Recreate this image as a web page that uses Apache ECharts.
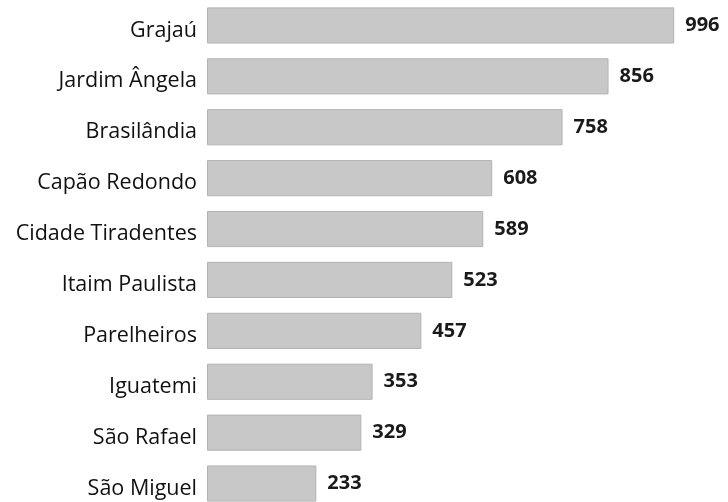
<!DOCTYPE html>
<html>
<head>
<meta charset="utf-8">
<script src="https://cdn.jsdelivr.net/npm/echarts@6/dist/echarts.min.js"></script>
<style>
  html, body { margin: 0; padding: 0; background: #fff; }
  #chart { width: 728px; height: 502px; }
</style>
</head>
<body>
<div id="chart"></div>
<script>
const bairros = ['Grajaú', 'Jardim Ângela', 'Brasilândia', 'Capão Redondo', 'Cidade Tiradentes',
    'Itaim Paulista', 'Parelheiros', 'Iguatemi', 'São Rafael', 'São Miguel'];
const valores = [996, 856, 758, 608, 589, 523, 457, 353, 329, 233];

const chart = echarts.init(document.getElementById('chart'), null, {renderer: 'canvas'});

chart.setOption({
    animation: false,
    grid: {left: 207, right: 5, top: 0, height: 509, outerBoundsMode: 'none'},
    xAxis: {
        type: 'value',
        min: 0,
        max: 1100,
        show: false
    },
    yAxis: {
        type: 'category',
        data: bairros,
        inverse: true,
        axisLine: {show: false},
        axisTick: {show: false},
        axisLabel: {
            margin: 10,
            color: '#111',
            fontFamily: 'Open Sans',
            fontSize: 21.5,
            verticalAlign: 'top',
            lineHeight: 22,
            padding: [-6, 0, 0, 0]
        }
    },
    series: [{
        type: 'bar',
        data: valores,
        barCategoryGap: '29%',
        itemStyle: {
            color: '#c8c8c8',
            borderColor: '#b3b3b3',
            borderWidth: 1
        },
        label: {
            show: true,
            position: 'right',
            distance: 11,
            color: '#1a1a1a',
            fontFamily: 'Open Sans',
            fontWeight: 'bold',
            fontSize: 20
        }
    }]
});
</script>
</body>
</html>
